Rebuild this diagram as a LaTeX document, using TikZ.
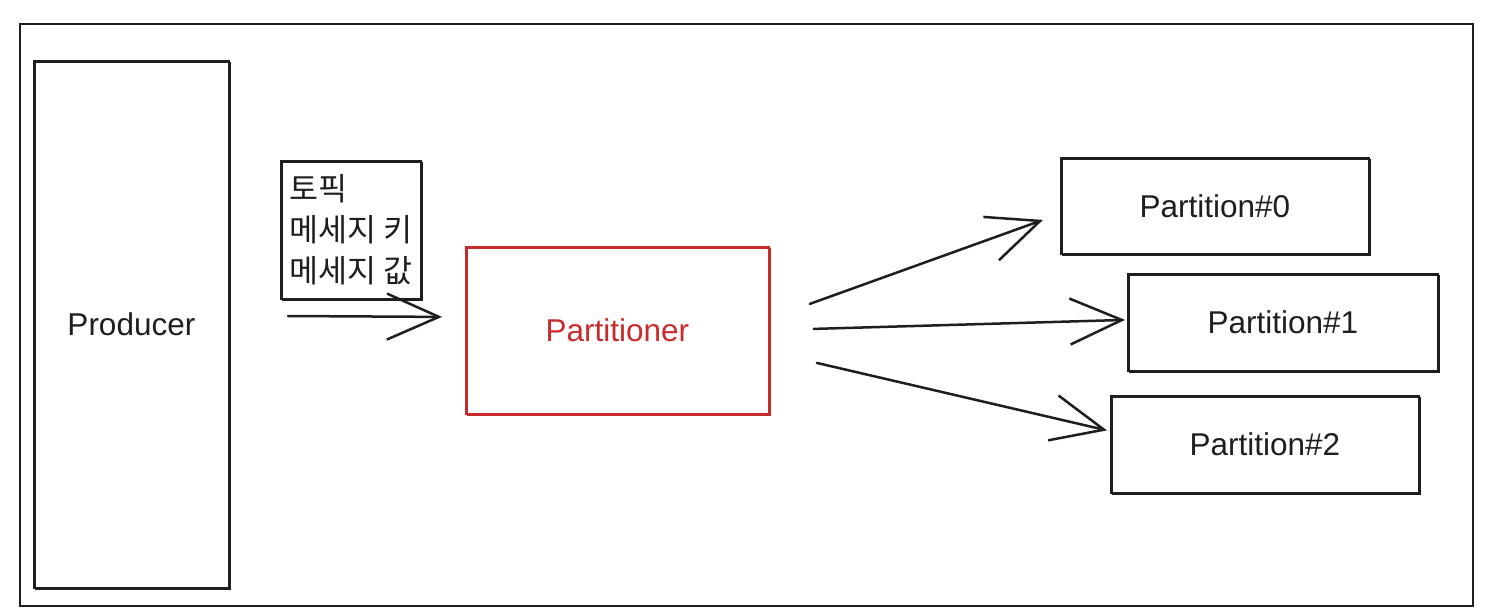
\documentclass[tikz,border=0pt]{standalone}
\usepackage{fontspec}
\setmainfont{Liberation Sans}
\newfontfamily\krfont{Noto Sans CJK KR}
\usetikzlibrary{arrows.meta,calc}
\definecolor{ink}{HTML}{1E1E1E}
\definecolor{pred}{HTML}{C92A2A}
\begin{document}
\begin{tikzpicture}[x=1pt,y=-1pt,
  frm/.style={draw=ink, line width=2pt, anchor=north west, inner sep=0pt},
  box/.style={draw=ink, line width=1.8pt, anchor=north west, inner sep=0pt,
    font=\fontsize{31.5}{36}\selectfont, text=ink,
    postaction={draw, line width=0.9pt, transform canvas={shift={(1.3pt,-1.1pt)}}}},
  redbox/.style={box, draw=pred, text=pred},
  kvbox/.style={box, align=left, font=\krfont\fontsize{31.5}{41}\selectfont},
  arr/.style={draw=ink, line width=2.5pt, line cap=round, line join=round,
    -{Straight Barb[length=52pt,width=46pt]}}]
\useasboundingbox (0,0) rectangle (1490,614);
\node[frm, minimum width=1453pt, minimum height=582pt] (frame) at (19,23) {};
\node[box, minimum width=195pt, minimum height=527pt] (prod) at (33,60) {Producer};
\node[kvbox, minimum width=140pt, minimum height=138pt] (kv) at (280,160) {토픽\\메세지 키\\메세지 값};
\node[redbox, minimum width=303pt, minimum height=167pt] (part) at (465,246) {Partitioner};
\node[box, minimum width=308pt, minimum height=96pt] (p0) at (1060,157) {Partition\#0};
\node[box, minimum width=310pt, minimum height=97pt] (p1) at (1127,273) {Partition\#1};
\node[box, minimum width=308pt, minimum height=97pt] (p2) at (1110,395) {Partition\#2};
\coordinate (in0) at (288,316);
\coordinate (s0) at ($(part.east)+(40,-26.5)$);
\coordinate (s1) at ($(part.east)+(44,-1.5)$);
\coordinate (s2) at ($(part.east)+(47,32.5)$);
\coordinate (e0) at ($(p0.west)+(-17,14)$);
\coordinate (e1) at ($(p1.west)+(-2,-2.5)$);
\coordinate (e2) at ($(p2.west)+(-3,-14)$);
\coordinate (ein) at ($(part.west)+(-23,-13.5)$);
\draw[arr] (in0) -- (ein);
\draw[arr] (s0) -- (e0);
\draw[arr] (s1) -- (e1);
\draw[arr] (s2) -- (e2);
\end{tikzpicture}
\end{document}
